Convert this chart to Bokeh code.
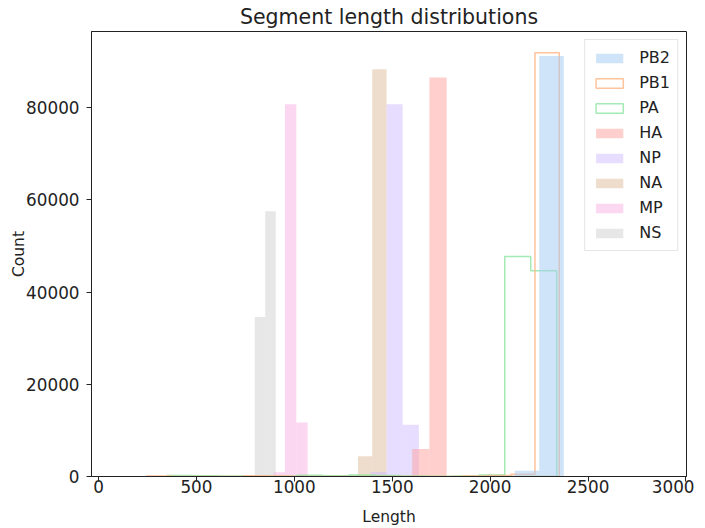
from bokeh.plotting import figure
from bokeh.models import Range1d, FixedTicker, BasicTickFormatter, Legend, LegendItem, ColumnDataSource
from bokeh.embed import file_html
from bokeh.resources import INLINE

# ---- data ----
series_names = ["PB2", "PB1", "PA", "HA", "NP", "NA", "MP", "NS"]
series_colors = ["#a1c9f4", "#ffb482", "#8de5a1", "#ff9f9b", "#d0bbff", "#debb9b", "#fab0e4", "#cfcfcf"]
series_step = ["PB1", "PA"]  # drawn as unfilled step outlines

PB2_edges = [1876, 2001, 2126, 2251, 2376]
PB2_counts = [100, 150, 1250, 91200]

PB1_edges = [245, 369, 493, 617, 741, 865, 989, 1113, 1237, 1361, 1485, 1609, 1733, 1857, 1981, 2105, 2229, 2353]
PB1_counts = [100, 0, 0, 0, 150, 100, 0, 0, 0, 0, 0, 0, 0, 100, 200, 500, 91900]

PA_edges = [350, 482.7, 615.3, 748, 880.7, 1013.3, 1146, 1278.7, 1411.3, 1544, 1676.7, 1809.3, 1942, 2074.7, 2207.3, 2340]
PA_counts = [200, 150, 100, 0, 50, 250, 150, 300, 200, 100, 50, 100, 300, 47700, 44600]

HA_edges = [1514, 1602, 1690, 1778]
HA_counts = [150, 5950, 86500]

NP_edges = [1389, 1471, 1553, 1636]
NP_counts = [1000, 80700, 11200]

NA_edges = [1252, 1325, 1398, 1471, 1544]
NA_counts = [250, 4400, 88300, 300]

MP_edges = [894, 952, 1010, 1068]
MP_counts = [900, 80700, 11700]

NS_edges = [263, 316.5, 370, 423.5, 477, 530.5, 584, 637.5, 691, 744.5, 798, 851.5, 905]
NS_counts = [150, 0, 0, 0, 0, 0, 0, 0, 0, 0, 34600, 57500]

x_ticks = [0, 500, 1000, 1500, 2000, 2500, 3000]
y_ticks = [0, 20000, 40000, 60000, 80000]

data = {
    "PB2": (PB2_edges, PB2_counts), "PB1": (PB1_edges, PB1_counts), "PA": (PA_edges, PA_counts),
    "HA": (HA_edges, HA_counts), "NP": (NP_edges, NP_counts), "NA": (NA_edges, NA_counts),
    "MP": (MP_edges, MP_counts), "NS": (NS_edges, NS_counts),
}

FONT = "DejaVu Sans"

p = figure(frame_width=595, frame_height=445,
           x_range=Range1d(-36, 3003), y_range=Range1d(0, 96500),
           output_backend="svg", toolbar_location=None,
           title="Segment length distributions",
           min_border_left=91, min_border_right=8, min_border_top=10, min_border_bottom=10)

p.title.text_font = FONT
p.title.text_font_size = "20.5px"
p.title.text_font_style = "normal"
p.title.align = "center"
p.title.text_color = "#222222"
p.title.standoff = 5

p.grid.visible = False
p.outline_line_color = "#222222"
p.outline_line_width = 1
p.outline_line_alpha = 1

for ax in (p.xaxis[0], p.yaxis[0]):
    ax.axis_line_color = "#222222"
    ax.major_tick_line_color = "#222222"
    ax.major_tick_out = 5
    ax.major_tick_in = 0
    ax.minor_tick_line_color = None
    ax.major_label_text_font = FONT
    ax.major_label_text_font_size = "16.8px"
    ax.major_label_text_color = "#222222"
    ax.axis_label_text_font = FONT
    ax.axis_label_text_font_size = "15.5px"
    ax.axis_label_text_font_style = "normal"
    ax.axis_label_text_color = "#222222"
    ax.formatter = BasicTickFormatter(use_scientific=False)

p.yaxis.major_label_standoff = 7
p.yaxis.axis_label_standoff = -5
p.xaxis.major_label_standoff = -2
p.xaxis.axis_label_standoff = 12

p.xaxis.ticker = FixedTicker(ticks=x_ticks)
p.yaxis.ticker = FixedTicker(ticks=y_ticks)
p.xaxis.axis_label = "Length"
p.yaxis.axis_label = "Count"

renderers = {}
# draw in reverse hue order so the first series ends on top
for name, color in reversed(list(zip(series_names, series_colors))):
    edges, counts = data[name]
    if name in series_step:
        xs, ys = [edges[0]], [0]
        for i, c in enumerate(counts):
            xs += [edges[i], edges[i + 1]]
            ys += [c, c]
        xs.append(edges[-1]); ys.append(0)
        r = p.patch(xs, ys, fill_alpha=0, line_color=color, line_width=1.5, line_alpha=0.8)
    else:
        src = ColumnDataSource(dict(left=edges[:-1], right=edges[1:], top=counts, bottom=[0] * len(counts)))
        r = p.quad(left="left", right="right", top="top", bottom="bottom", source=src,
                   fill_color=color, fill_alpha=0.5, line_alpha=0)
    renderers[name] = r

legend = Legend(items=[LegendItem(label=n, renderers=[renderers[n]]) for n in series_names],
                location="top_right")
legend.label_text_font = FONT
legend.label_text_font_size = "16px"
legend.label_text_color = "#222222"
legend.glyph_width = 34
legend.glyph_height = 12
legend.label_height = 21
legend.label_standoff = 13
legend.spacing = 4
legend.padding = 7
legend.margin = 8
legend.border_line_color = "#cccccc"
legend.border_line_width = 1
legend.background_fill_alpha = 0.8
p.add_layout(legend)

open("out.html", "w").write(file_html(p, INLINE))
